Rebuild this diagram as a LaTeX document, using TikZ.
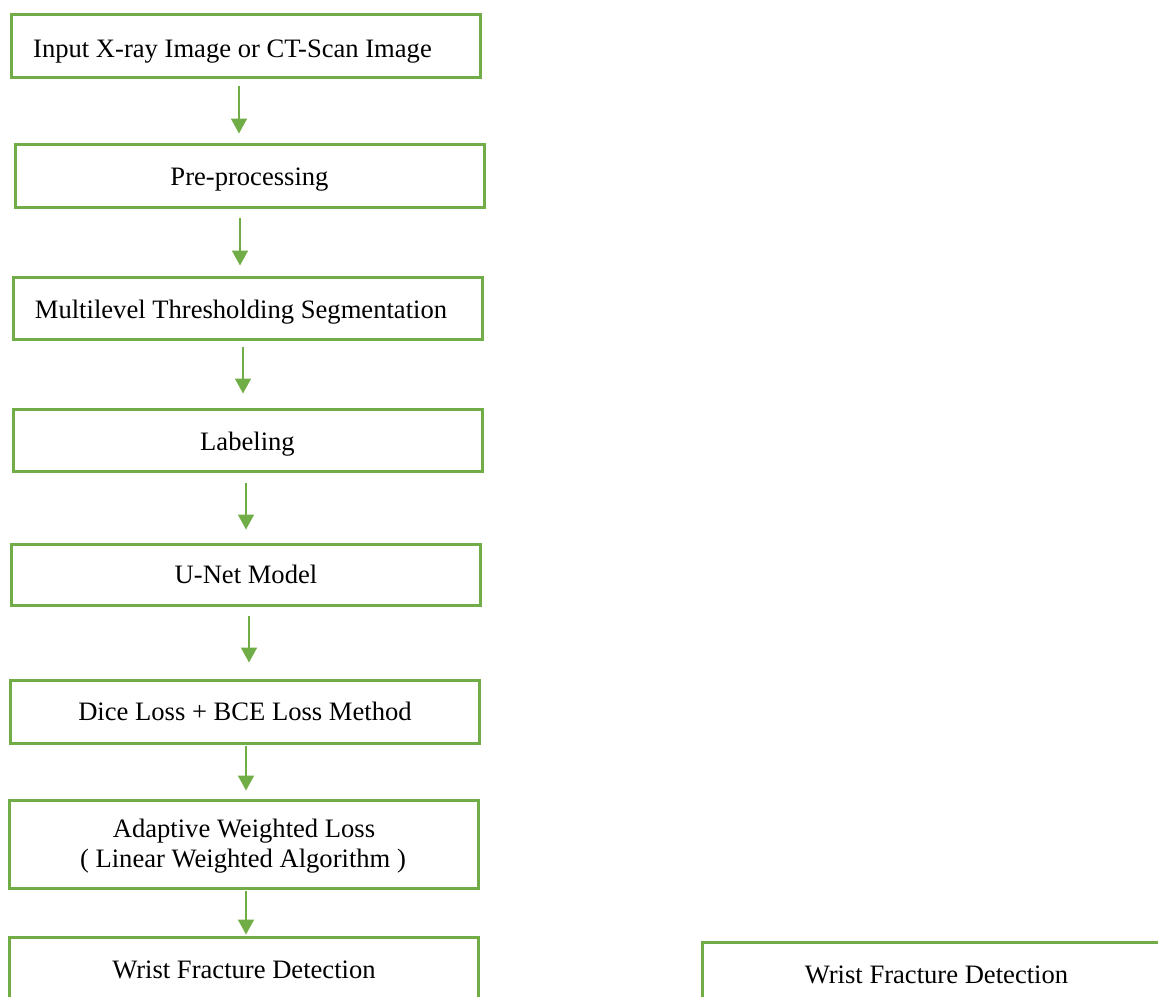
\documentclass[tikz,border=0pt]{standalone}
\usepackage{fontspec}
\setmainfont{Liberation Serif}
\usetikzlibrary{arrows.meta}
\definecolor{grn}{HTML}{70AD47}
\begin{document}
\begin{tikzpicture}[x=1pt,y=-1pt,
  box/.style={draw=grn,line width=3pt,minimum width=469pt,minimum height=63pt,inner sep=0pt},
  txt/.style={anchor=base,inner sep=0pt,font=\fontsize{26.6}{30}\selectfont},
  arr/.style={draw=grn,line width=1.8pt,-{Triangle[width=16pt,length=15pt]}}]
\useasboundingbox (0,0) rectangle (1158,996);
\clip (0,0) rectangle (1158,996);
\node[box] (b1) at (245.5,45.5) {};
\node[box] (b2) at (249.5,175.5) {};
\node[box,minimum height=62pt] (b3) at (248,308) {};
\node[box,minimum height=62pt] (b4) at (247.5,440) {};
\node[box,minimum height=61pt] (b5) at (246,574.5) {};
\node[box] (b6) at (245,711.5) {};
\node[box,minimum height=88pt] (b7) at (243.5,844) {};
\node[box] (b8) at (243.5,968.5) {};
\node[box,minimum width=468pt] (b9) at (936,973.5) {};
\node[txt] (t1) at ([xshift=-13pt,yshift=-11.5pt]b1.center) {Input X-ray Image or CT-Scan Image};
\node[txt] (t2) at ([yshift=-9.5pt]b2.center) {Pre-processing};
\node[txt] (t3) at ([xshift=-7pt,yshift=-10pt]b3.center) {Multilevel Thresholding Segmentation};
\node[txt] (t4) at ([yshift=-10pt]b4.center) {Labeling};
\node[txt] (t5) at ([yshift=-8.5pt]b5.center) {U-Net Model};
\node[txt] (t6) at ([yshift=-8.5pt]b6.center) {Dice Loss + BCE Loss Method};
\node[txt] (t7a) at ([xshift=0.5pt,yshift=7pt]b7.center) {Adaptive Weighted Loss};
\node[txt] (t7b) at ([xshift=-0.5pt,yshift=-23pt]b7.center) {( Linear Weighted Algorithm )};
\node[txt] (t8) at ([xshift=0.5pt,yshift=-9.5pt]b8.center) {Wrist Fracture Detection};
\node[txt] (t9) at ([xshift=0.5pt,yshift=-9.5pt]b9.center) {Wrist Fracture Detection};
\draw[arr] ([xshift=-6.5pt,yshift=-7pt]b1.south) -- ([xshift=-10.5pt,yshift=9pt]b2.north);
\draw[arr] ([xshift=-9.5pt,yshift=-9pt]b2.south) -- ([xshift=-8pt,yshift=10pt]b3.north);
\draw[arr] ([xshift=-5pt,yshift=-6pt]b3.south) -- ([xshift=-4.5pt,yshift=14pt]b4.north);
\draw[arr] ([xshift=-1.5pt,yshift=-10pt]b4.south) -- ([yshift=13pt]b5.north);
\draw[arr] ([xshift=3pt,yshift=-9pt]b5.south) -- ([xshift=4pt,yshift=16pt]b6.north);
\draw[arr] ([xshift=1pt,yshift=-1.5pt]b6.south) -- ([xshift=2.5pt,yshift=8pt]b7.north);
\draw[arr] ([xshift=2.5pt,yshift=-1.5pt]b7.south) -- ([xshift=2.5pt,yshift=1pt]b8.north);
\end{tikzpicture}
\end{document}
